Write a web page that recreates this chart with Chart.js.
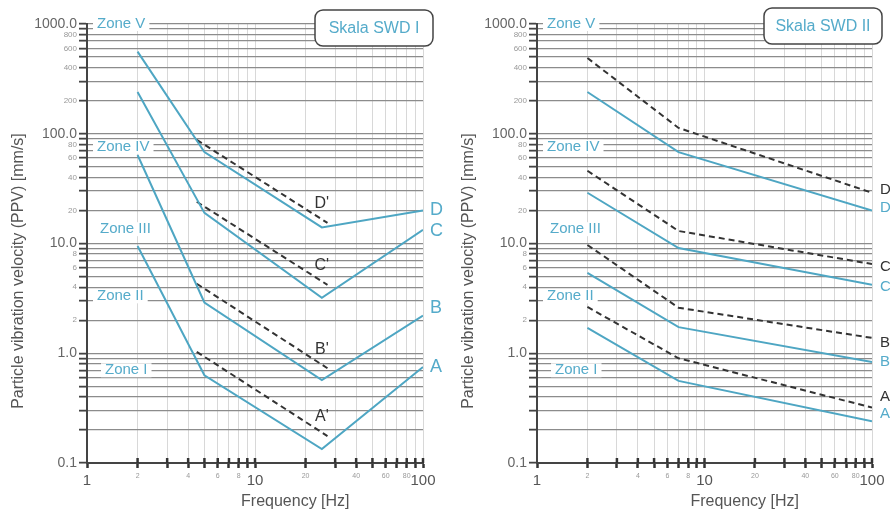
<!DOCTYPE html>
<html>
<head>
<meta charset="utf-8">
<script src="https://cdn.jsdelivr.net/npm/chart.js@4.4.1/dist/chart.umd.min.js"></script>
<style>
    html, body { margin: 0; padding: 0; background: #fff; }
    #wrap { position: relative; width: 890px; height: 514px; overflow: hidden; }
    .box { position: absolute; top: 0; height: 514px; }
    #boxI { left: 0; width: 445px; }
    #boxII { left: 450px; width: 440px; }
</style>
</head>
<body>
<div id="wrap">
    <div class="box" id="boxI"><canvas id="chartI"></canvas></div>
    <div class="box" id="boxII"><canvas id="chartII"></canvas></div>
</div>
<script>
// axis ticks
const xTicks = [1, 2, 3, 4, 5, 6, 7, 8, 9, 10, 20, 30, 40, 50, 60, 70, 80, 90, 100];
const xTickLabels = {1: '1', 2: '2', 4: '4', 6: '6', 8: '8', 10: '10', 20: '20', 40: '40', 60: '60', 80: '80', 100: '100'};
const xMajor = [1, 10, 100];
const yTicks = [0.1, 0.2, 0.3, 0.4, 0.5, 0.6, 0.7, 0.8, 0.9, 1, 2, 3, 4, 5, 6, 7, 8, 9,
    10, 20, 30, 40, 50, 60, 70, 80, 90, 100, 200, 300, 400, 500, 600, 700, 800, 900, 1000];
const yTickLabels = {1000: '1000.0', 800: '800', 600: '600', 400: '400', 200: '200',
    100: '100.0', 80: '80', 60: '60', 40: '40', 20: '20',
    10: '10.0', 8: '8', 6: '6', 4: '4', 2: '2', 1: '1.0', 0.1: '0.1'};
const yMajor = [0.1, 1, 10, 100, 1000];

// zones
const zoneNames = ['Zone V', 'Zone IV', 'Zone III', 'Zone II', 'Zone I'];
const zoneLevels = [1000, 76, 13.5, 3.3, 0.7];

// Skala SWD I
const freqI = [2, 5, 25, 100];
const freqDashI = [4.5, 27];
const swdI_A = [9.5, 0.63, 0.134, 0.75];
const swdI_B = [64, 2.9, 0.57, 2.2];
const swdI_C = [240, 19, 3.2, 13.3];
const swdI_D = [560, 68, 14, 20];
const swdI_A2 = [1.03, 0.176];
const swdI_B2 = [4.3, 0.73];
const swdI_C2 = [24, 4.2];
const swdI_D2 = [88, 15.4];

// Skala SWD II
const freqII = [2, 7, 100];
const swdII_A = [1.7, 0.56, 0.24];
const swdII_B = [5.4, 1.73, 0.83];
const swdII_C = [29, 9.1, 4.2];
const swdII_D = [240, 68, 20];
const swdII_A2 = [2.64, 0.9, 0.32];
const swdII_B2 = [9.7, 2.6, 1.38];
const swdII_C2 = [46, 13, 6.5];
const swdII_D2 = [490, 113, 29];

const teal = '#4ea6c3';
const tealText = '#55abca';
const dark = '#333';
const fontFamily = '"Liberation Sans", Arial, sans-serif';

function pts(xs, ys) {
    return xs.map((x, i) => ({x: x, y: ys[i]}));
}

function solid(xs, ys) {
    return {data: pts(xs, ys), borderColor: teal, borderWidth: 2, pointRadius: 0, tension: 0};
}

function dashed(xs, ys) {
    return {data: pts(xs, ys), borderColor: dark, borderWidth: 2, borderDash: [6, 4], pointRadius: 0, tension: 0};
}

function decor(cfg) {
    return {
        id: 'decor',
        beforeDatasetsDraw(chart) {
            const ctx = chart.ctx, a = chart.chartArea, x = chart.scales.x, y = chart.scales.y;
            ctx.save();
            // upper half of the bottom tick marks
            ctx.strokeStyle = '#333';
            ctx.lineWidth = 2.5;
            xTicks.forEach(v => {
                if (v === 1) return;
                const px = x.getPixelForValue(v);
                ctx.beginPath();
                ctx.moveTo(px, a.bottom);
                ctx.lineTo(px, a.bottom - 5);
                ctx.stroke();
            });
            // zone names on the grid
            ctx.font = '15px ' + fontFamily;
            ctx.textBaseline = 'middle';
            zoneNames.forEach((t, i) => {
                const py = y.getPixelForValue(zoneLevels[i]);
                const px = a.left + (i === 4 ? 18 : (i === 2 ? 13 : 10));
                const w = ctx.measureText(t).width;
                ctx.fillStyle = '#fff';
                ctx.fillRect(px - 4, py - 7, w + 8, 14);
                ctx.fillStyle = tealText;
                ctx.fillText(t, px, py);
            });
            ctx.restore();
        },
        afterDraw(chart) {
            const ctx = chart.ctx, a = chart.chartArea, x = chart.scales.x, y = chart.scales.y;
            ctx.save();
            // title box
            const bx = a.right - 108, by = cfg.boxTop, bw = 118, bh = 36;
            ctx.fillStyle = '#fff';
            ctx.strokeStyle = '#444';
            ctx.lineWidth = 1.5;
            ctx.beginPath();
            ctx.roundRect(bx, by, bw, bh, 8);
            ctx.fill();
            ctx.stroke();
            ctx.fillStyle = tealText;
            ctx.font = '16px ' + fontFamily;
            ctx.textAlign = 'center';
            ctx.textBaseline = 'middle';
            ctx.fillText(cfg.title, bx + bw / 2, by + bh / 2 + 1);

            // labels at the right end of the lines
            ctx.textAlign = 'left';
            ctx.font = cfg.endSize + 'px ' + fontFamily;
            cfg.endLabels.forEach(l => {
                ctx.fillStyle = l.dark ? dark : tealText;
                ctx.fillText(l.text, a.right + cfg.endGap, y.getPixelForValue(l.value));
            });

            // primed labels above the dashed ends
            ctx.textAlign = 'center';
            ctx.font = '16px ' + fontFamily;
            ctx.fillStyle = dark;
            (cfg.primeLabels || []).forEach(l => {
                ctx.fillText(l.text, x.getPixelForValue(l.x), y.getPixelForValue(l.value) - 19);
            });

            // axis titles
            ctx.fillStyle = '#555';
            ctx.font = '16px ' + fontFamily;
            ctx.fillText('Frequency [Hz]', a.left + 0.62 * (a.right - a.left), 502);
            ctx.translate(19, 271);
            ctx.rotate(-Math.PI / 2);
            ctx.fillText('Particle vibration velocity (PPV) [mm/s]', 0, 0);
            ctx.restore();
        }
    };
}

function makeChart(id, datasets, cfg) {
    return new Chart(document.getElementById(id), {
        type: 'line',
        data: {datasets: datasets},
        options: {
            responsive: true,
            maintainAspectRatio: false,
            animation: false,
            layout: {padding: {top: 24, right: cfg.padRight, left: 0, bottom: 0}},
            plugins: {legend: {display: false}, tooltip: {enabled: false}},
            scales: {
                x: {
                    type: 'logarithmic',
                    min: 1,
                    max: 100,
                    afterBuildTicks: axis => { axis.ticks = xTicks.map(v => ({value: v})); },
                    afterFit: axis => { axis.height = 51; },
                    grid: {color: '#d8d8d8', lineWidth: 1, tickLength: 5, tickColor: '#333', tickWidth: 2.5},
                    border: {color: '#444', width: 2},
                    ticks: {
                        autoSkip: false,
                        maxRotation: 0,
                        padding: 4,
                        callback: v => xTickLabels[v] || '',
                        color: c => (c.tick && xMajor.includes(c.tick.value)) ? '#555' : '#999',
                        font: c => ({family: fontFamily, size: (c.tick && xMajor.includes(c.tick.value)) ? 15 : 7})
                    }
                },
                y: {
                    type: 'logarithmic',
                    min: 0.1,
                    max: 1000,
                    afterBuildTicks: axis => { axis.ticks = yTicks.map(v => ({value: v})); },
                    afterFit: axis => { axis.width = 87; },
                    grid: {color: '#8c8c8c', lineWidth: 1.3, tickLength: 8, tickColor: '#444', tickWidth: 1.8},
                    border: {color: '#444', width: 2},
                    ticks: {
                        autoSkip: false,
                        padding: 2,
                        callback: v => yTickLabels[v] || '',
                        color: c => (c.tick && yMajor.includes(c.tick.value)) ? '#666' : '#999',
                        font: c => ({family: fontFamily, size: (c.tick && yMajor.includes(c.tick.value)) ? 14 : 8})
                    }
                }
            }
        },
        plugins: [decor(cfg)]
    });
}

makeChart('chartI', [
    solid(freqI, swdI_D), solid(freqI, swdI_C), solid(freqI, swdI_B), solid(freqI, swdI_A),
    dashed(freqDashI, swdI_D2), dashed(freqDashI, swdI_C2), dashed(freqDashI, swdI_B2), dashed(freqDashI, swdI_A2)
], {
    title: 'Skala SWD I',
    boxTop: 10,
    padRight: 22,
    endGap: 7,
    endSize: 18,
    endLabels: [
        {text: 'D', value: 20}, {text: 'C', value: 13}, {text: 'B', value: 2.6}, {text: 'A', value: 0.75}
    ],
    primeLabels: [
        {text: "D'", x: 25, value: swdI_D2[1]}, {text: "C'", x: 25, value: swdI_C2[1]},
        {text: "B'", x: 25, value: swdI_B2[1]}, {text: "A'", x: 25, value: swdI_A2[1]}
    ]
});

makeChart('chartII', [
    solid(freqII, swdII_D), solid(freqII, swdII_C), solid(freqII, swdII_B), solid(freqII, swdII_A),
    dashed(freqII, swdII_D2), dashed(freqII, swdII_C2), dashed(freqII, swdII_B2), dashed(freqII, swdII_A2)
], {
    title: 'Skala SWD II',
    boxTop: 8,
    padRight: 18,
    endGap: 8,
    endSize: 15,
    endLabels: [
        {text: 'D', value: 30.7, dark: true}, {text: 'D', value: 21},
        {text: 'C', value: 6.1, dark: true}, {text: 'C', value: 4.0},
        {text: 'B', value: 1.24, dark: true}, {text: 'B', value: 0.84},
        {text: 'A', value: 0.4, dark: true}, {text: 'A', value: 0.28}
    ]
});
</script>
</body>
</html>
